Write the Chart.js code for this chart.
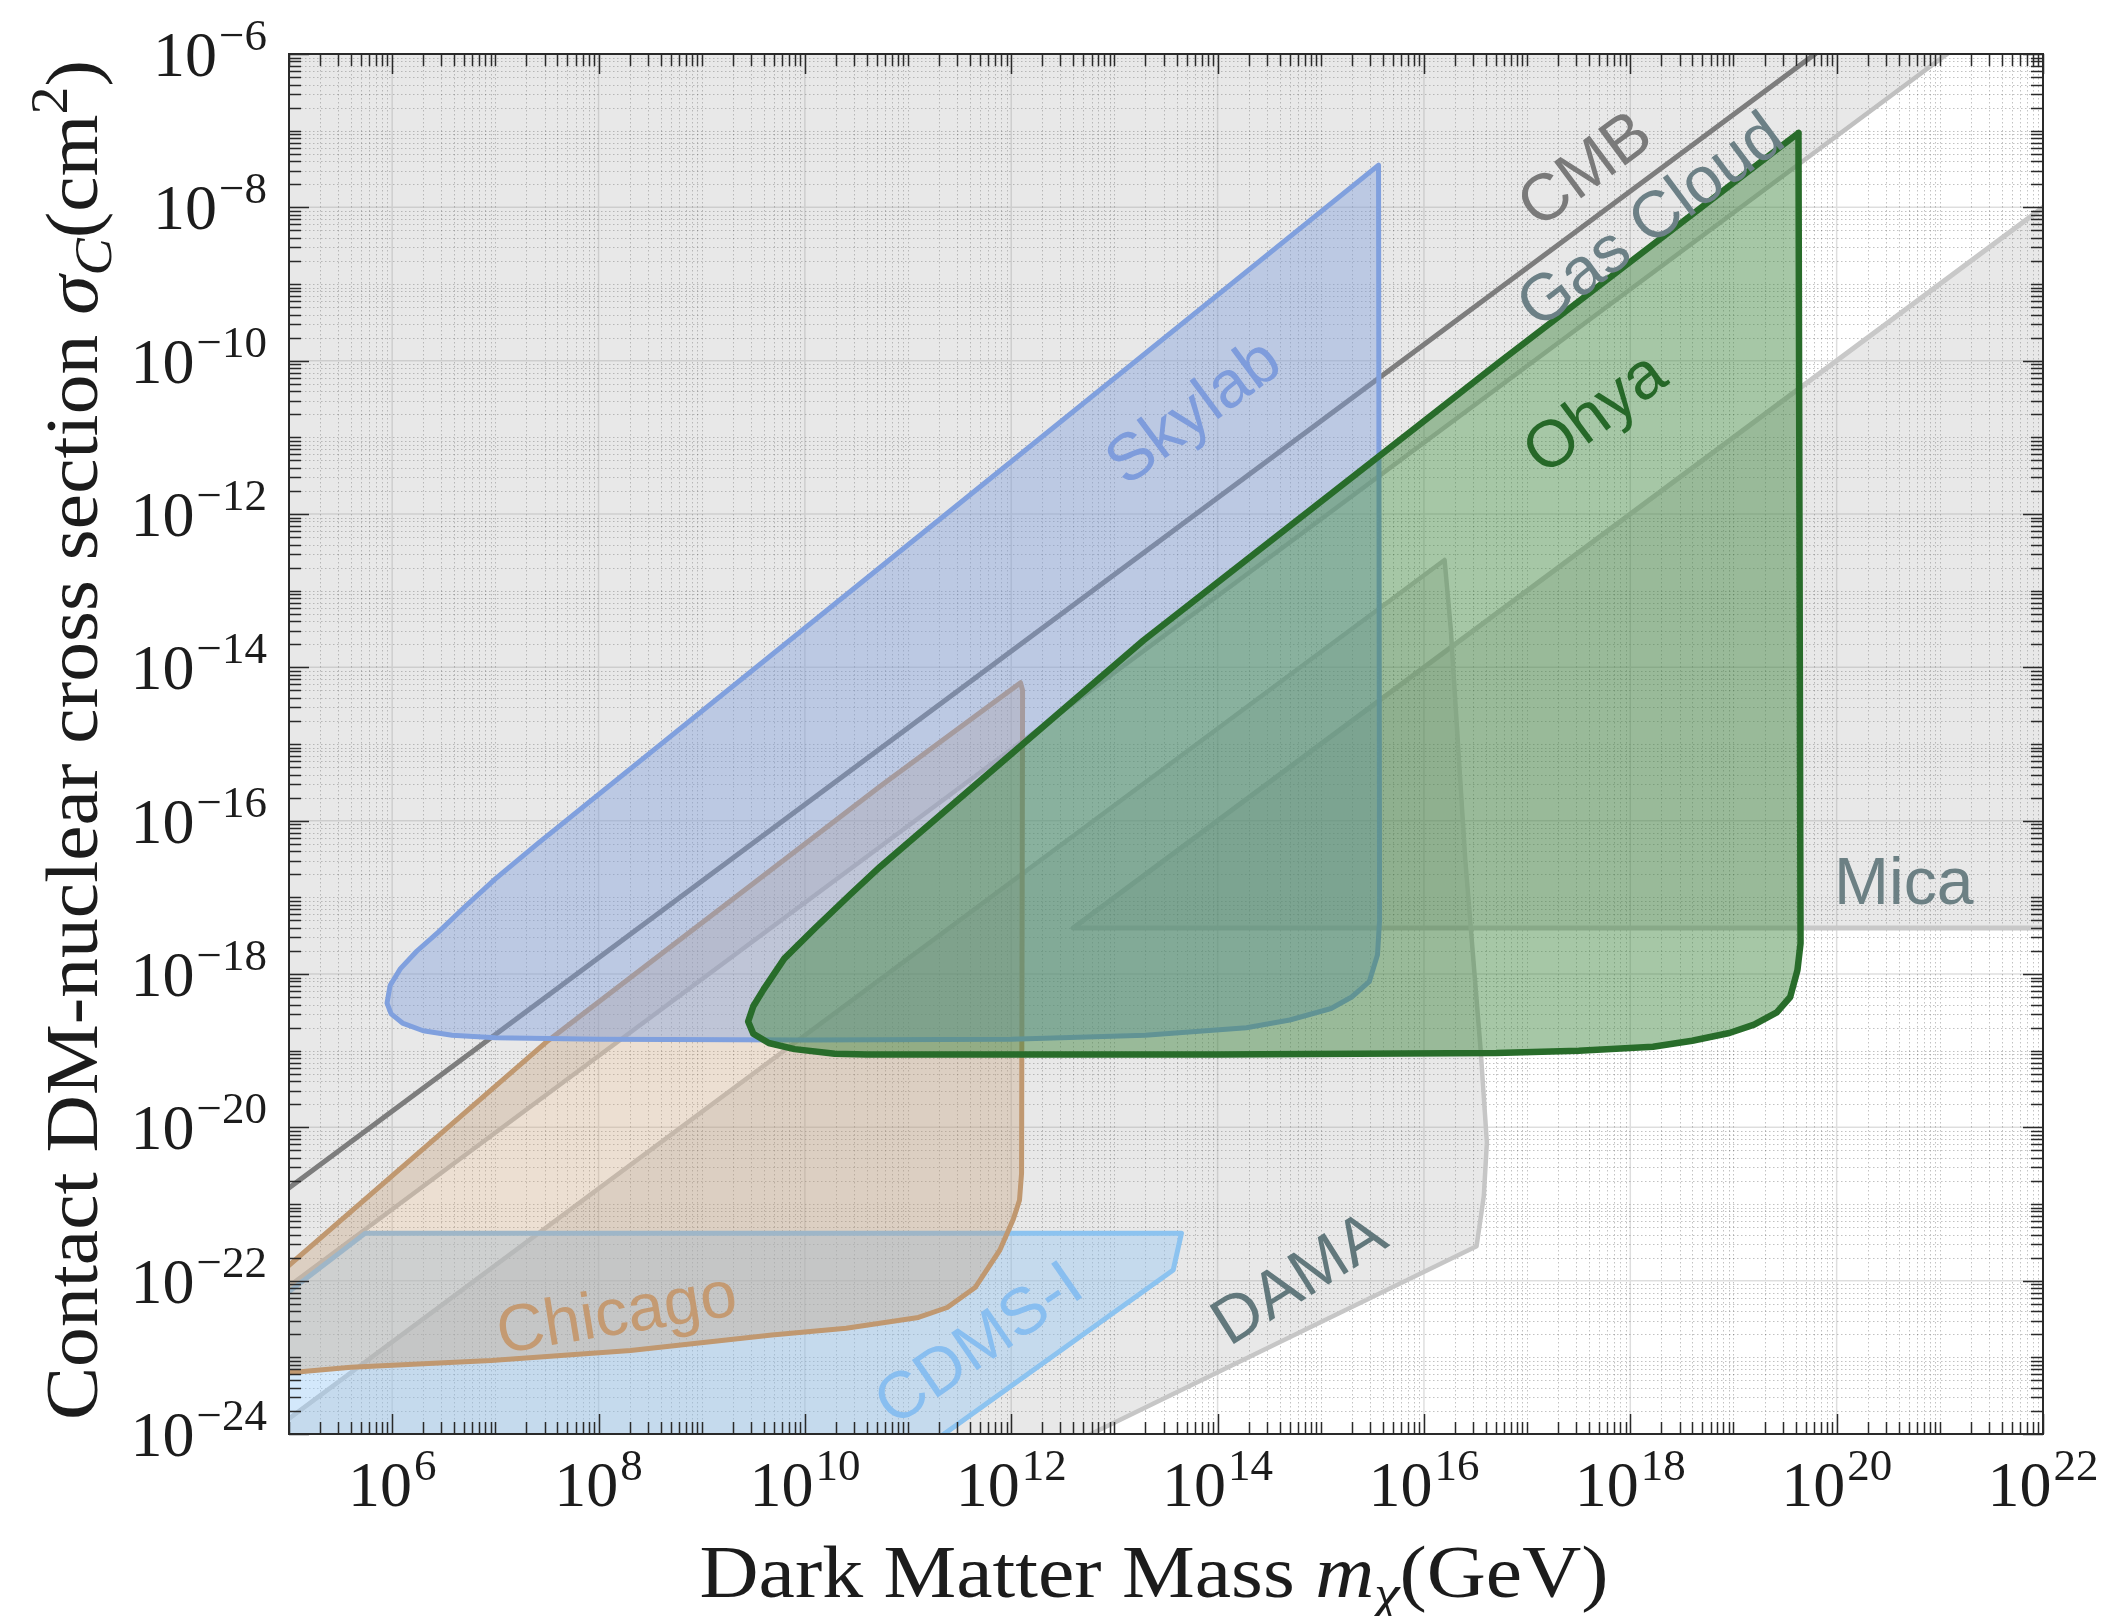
<!DOCTYPE html>
<html>
<head>
<meta charset="utf-8">
<script src="https://cdn.jsdelivr.net/npm/chart.js@4.4.1/dist/chart.umd.min.js"></script>
<style>
  html, body { margin: 0; padding: 0; background: #ffffff; }
  canvas { display: block; }
</style>
</head>
<body>
<canvas id="chart" width="2105" height="1616"></canvas>
<script>
// All values are log10: mass in GeV, cross section in cm^2.
const massRangeExp = [5, 22];
const sigmaRangeExp = [-24, -6];
const massTickExp = [6, 8, 10, 12, 14, 16, 18, 20, 22];
const sigmaTickExp = [-6, -8, -10, -12, -14, -16, -18, -20, -22, -24];

// CMB bound (line)
const cmbLogM = [4.5, 20.5];
const cmbLogSigma = [-21.29, -5.29];

// Gas cloud bound (excluded above the line)
const gasLogM = [4.5, 21.6, 4.5];
const gasLogSigma = [-22.57, -5.47, -5.47];

// Mica excluded wedge
const micaLogM = [22.5, 12.6, 22.5];
const micaLogSigma = [-7.5, -17.4, -17.4];

// DAMA region
const damaLogM = [4.3, 16.2, 16.26, 16.4, 16.55, 16.61, 16.58, 16.51, 12.01];
const damaLogSigma = [-24.5, -12.6, -13.5, -16.5, -19.0, -20.2, -20.9, -21.55, -24.5];

// CDMS-I region
const cdmsLogM = [4.5, 5.74, 13.65, 13.57, 10.83, 4.5];
const cdmsLogSigma = [-22.66, -21.38, -21.38, -21.86, -24.5, -24.5];

// Chicago region
const chicagoLogM = [4.5, 5.0, 7.51, 10.73, 12.09, 12.11, 12.1, 12.08, 12.02, 11.89, 11.65, 11.38, 11.1, 10.4, 9.68, 8.31, 6.96, 5.6, 5.0, 4.5];
const chicagoLogSigma = [-22.4, -21.8, -18.87, -15.55, -14.2, -14.3, -20.6, -20.95, -21.2, -21.6, -22.09, -22.35, -22.48, -22.62, -22.71, -22.91, -23.04, -23.13, -23.2, -23.25];

// Skylab region (closed outline)
const skylabLogM = [15.56, 15.57, 15.55, 15.47, 15.3, 15.1, 14.7, 14.28, 13.3, 12.0, 10.0, 8.0, 7.0, 6.58, 6.3, 6.1, 5.99, 5.95, 5.98, 6.08, 6.24, 6.45, 6.7, 7.0, 7.41, 11.5, 15.56];
const skylabLogSigma = [-7.45, -17.3, -17.75, -18.1, -18.3, -18.45, -18.6, -18.7, -18.8, -18.85, -18.86, -18.85, -18.83, -18.8, -18.74, -18.64, -18.52, -18.38, -18.15, -17.93, -17.7, -17.45, -17.13, -16.76, -16.3, -11.86, -7.45];

// Ohya region (closed outline)
const ohyaLogM = [19.63, 19.65, 19.62, 19.55, 19.42, 19.2, 18.96, 18.6, 18.22, 17.5, 16.7, 14.0, 12.0, 10.6, 10.29, 9.9, 9.65, 9.5, 9.45, 9.5, 9.6, 9.8, 10.1, 10.45, 10.73, 13.28, 16.73, 19.63];
const ohyaLogSigma = [-7.03, -17.6, -17.95, -18.3, -18.5, -18.66, -18.77, -18.87, -18.95, -19.0, -19.03, -19.05, -19.05, -19.05, -19.04, -18.98, -18.9, -18.78, -18.62, -18.42, -18.2, -17.8, -17.4, -16.95, -16.6, -13.65, -10.02, -7.03];

// Region names and where they are written (log10 coordinates, direction as log-log slope)
const regionNames = ['CMB', 'Gas Cloud', 'Skylab', 'Ohya', 'Chicago', 'CDMS-I', 'DAMA', 'Mica'];
const regionLabelLogM = [17.575, 18.21, 13.78, 17.67, 8.18, 11.7, 14.8, 20.65];
const regionLabelLogSigma = [-7.535, -8.2, -10.69, -10.71, -22.46, -22.85, -22.0, -16.85];
const regionLabelSlope = [1, 1, 1, 1, 0.22, 0.93, 0.85, 0];
const regionLabelColors = ['rgb(122,122,122)', 'rgb(108,128,134)', 'rgb(126,156,220)', 'rgb(38,104,40)',
                           'rgb(196,154,114)', 'rgb(136,190,240)', 'rgb(98,120,124)', 'rgb(108,128,132)'];

const pow10 = v => Math.pow(10, v);
const toPoints = (logM, logS) => logM.map((m, i) => ({ x: pow10(m), y: pow10(logS[i]) }));

function region(label, logM, logS, stroke, fillColor, width, order) {
  return {
    label,
    data: toPoints(logM, logS),
    showLine: true,
    borderColor: stroke,
    backgroundColor: fillColor || 'rgba(0,0,0,0)',
    borderWidth: width,
    fill: fillColor ? 'shape' : false,
    pointRadius: 0,
    pointHoverRadius: 0,
    borderJoinStyle: 'round',
    borderCapStyle: 'round',
    tension: 0,
    clip: 0,
    order
  };
}

const datasets = [
  region('Ohya', ohyaLogM, ohyaLogSigma, 'rgb(40,108,42)', 'rgba(62,132,62,0.46)', 6.5, 1),
  region('Skylab', skylabLogM, skylabLogSigma, 'rgb(128,160,222)', 'rgba(128,160,222,0.42)', 5, 2),
  region('Chicago', chicagoLogM, chicagoLogSigma, 'rgb(192,152,112)', 'rgba(196,156,116,0.32)', 5, 3),
  region('CDMS-I', cdmsLogM, cdmsLogSigma, 'rgb(140,195,240)', 'rgba(150,200,245,0.42)', 5, 4),
  region('CMB', cmbLogM, cmbLogSigma, 'rgb(125,125,125)', null, 5, 5),
  region('Gas Cloud', gasLogM, gasLogSigma, 'rgb(192,192,192)', 'rgba(120,120,120,0.17)', 4.5, 6),
  region('DAMA', damaLogM, damaLogSigma, 'rgb(198,198,198)', 'rgba(120,120,120,0.17)', 4.5, 7),
  region('Mica', micaLogM, micaLogSigma, 'rgb(200,200,200)', 'rgba(120,120,120,0.17)', 5, 8)
];

const SERIF = '"Liberation Serif", "DejaVu Serif", serif';
const SANS = '"Liberation Sans", Arial, sans-serif';
const INK = '#1c1c1c';

function minorValues(rangeExp) {
  const out = [];
  for (let e = rangeExp[0]; e < rangeExp[1]; e++) {
    for (let k = 1; k < 10; k++) out.push({ v: k * pow10(e), k, e });
  }
  out.push({ v: pow10(rangeExp[1]), k: 1, e: rangeExp[1] });
  return out;
}

function drawPower(ctx, exp, x, y, align) {
  const base = '10';
  const sup = exp < 0 ? '\u2212' + (-exp) : String(exp);
  const baseFont = '64px ' + SERIF;
  const supFont = '45px ' + SERIF;
  ctx.font = baseFont;
  const wb = ctx.measureText(base).width;
  ctx.font = supFont;
  const ws = ctx.measureText(sup).width;
  const gap = 2;
  const total = wb + gap + ws;
  const x0 = align === 'center' ? x - total / 2 : x - total;
  ctx.textAlign = 'left';
  ctx.textBaseline = 'alphabetic';
  ctx.font = baseFont;
  ctx.fillText(base, x0, y);
  ctx.font = supFont;
  ctx.fillText(sup, x0 + wb + gap, y - 26);
}

function drawRich(ctx, parts, cx, cy, targetWidth, vertical) {
  let total = 0;
  parts.forEach(p => { ctx.font = p.font; p.w = ctx.measureText(p.text).width; total += p.w; });
  const sx = targetWidth / total;
  ctx.save();
  ctx.translate(cx, cy);
  if (vertical) ctx.rotate(-Math.PI / 2);
  ctx.scale(sx, 1);
  ctx.textAlign = 'left';
  ctx.textBaseline = 'alphabetic';
  let xx = -total / 2;
  parts.forEach(p => { ctx.font = p.font; ctx.fillText(p.text, xx, p.dy || 0); xx += p.w; });
  ctx.restore();
}

const decorations = {
  id: 'decorations',
  beforeDatasetsDraw(chart) {
    const { ctx, chartArea: a, scales: { x, y } } = chart;
    ctx.save();
    ctx.beginPath();
    ctx.rect(a.left, a.top, a.right - a.left, a.bottom - a.top);
    ctx.clip();
    // dotted minor grid
    ctx.strokeStyle = 'rgba(0,0,0,0.24)';
    ctx.lineWidth = 1;
    ctx.setLineDash([1.5, 2.5]);
    ctx.beginPath();
    minorValues(massRangeExp).forEach(t => {
      if (t.k === 1 && massTickExp.includes(t.e)) return;
      const px = Math.round(x.getPixelForValue(t.v)) + 0.5;
      ctx.moveTo(px, a.top); ctx.lineTo(px, a.bottom);
    });
    minorValues(sigmaRangeExp).forEach(t => {
      if (t.k === 1 && sigmaTickExp.includes(t.e)) return;
      const py = Math.round(y.getPixelForValue(t.v)) + 0.5;
      ctx.moveTo(a.left, py); ctx.lineTo(a.right, py);
    });
    ctx.stroke();
    // solid grid at labelled decades
    ctx.setLineDash([]);
    ctx.strokeStyle = 'rgba(0,0,0,0.13)';
    ctx.lineWidth = 1.5;
    ctx.beginPath();
    massTickExp.forEach(e => {
      const px = x.getPixelForValue(pow10(e));
      ctx.moveTo(px, a.top); ctx.lineTo(px, a.bottom);
    });
    sigmaTickExp.forEach(e => {
      const py = y.getPixelForValue(pow10(e));
      ctx.moveTo(a.left, py); ctx.lineTo(a.right, py);
    });
    ctx.stroke();
    ctx.restore();
  },
  afterDatasetsDraw(chart) {
    const { ctx, chartArea: a, scales: { x, y } } = chart;
    ctx.save();
    // region names
    regionNames.forEach((name, i) => {
      const lm = regionLabelLogM[i], ls = regionLabelLogSigma[i];
      const px = x.getPixelForValue(pow10(lm));
      const py = y.getPixelForValue(pow10(ls));
      const dx = x.getPixelForValue(pow10(lm + 1)) - px;
      const dy = y.getPixelForValue(pow10(ls + regionLabelSlope[i])) - py;
      ctx.save();
      ctx.translate(px, py);
      ctx.rotate(Math.atan2(dy, dx));
      ctx.font = '66px ' + SANS;
      ctx.fillStyle = regionLabelColors[i];
      ctx.textAlign = 'center';
      ctx.textBaseline = 'middle';
      ctx.fillText(name, 0, 0);
      ctx.restore();
    });

    // frame
    ctx.strokeStyle = '#2a2a2a';
    ctx.lineWidth = 2;
    ctx.strokeRect(a.left, a.top, a.right - a.left, a.bottom - a.top);

    // inward ticks on all four sides
    ctx.lineWidth = 1.5;
    ctx.beginPath();
    minorValues(massRangeExp).forEach(t => {
      const len = (t.k === 1 && massTickExp.includes(t.e)) ? 20 : 12;
      const px = Math.round(x.getPixelForValue(t.v)) + 0.5;
      ctx.moveTo(px, a.bottom); ctx.lineTo(px, a.bottom - len);
      ctx.moveTo(px, a.top); ctx.lineTo(px, a.top + len);
    });
    minorValues(sigmaRangeExp).forEach(t => {
      const len = (t.k === 1 && sigmaTickExp.includes(t.e)) ? 20 : 12;
      const py = Math.round(y.getPixelForValue(t.v)) + 0.5;
      ctx.moveTo(a.left, py); ctx.lineTo(a.left + len, py);
      ctx.moveTo(a.right, py); ctx.lineTo(a.right - len, py);
    });
    ctx.stroke();

    // tick labels
    ctx.fillStyle = INK;
    massTickExp.forEach(e => drawPower(ctx, e, x.getPixelForValue(pow10(e)), a.bottom + 72, 'center'));
    sigmaTickExp.forEach(e => drawPower(ctx, e, a.left - 22, y.getPixelForValue(pow10(e)) + 22, 'right'));

    // axis titles
    const tf = '74px ' + SERIF, ti = 'italic 74px ' + SERIF, ts = 'italic 52px ' + SERIF, tn = '52px ' + SERIF;
    drawRich(ctx, [
      { text: 'Dark Matter Mass ', font: tf },
      { text: 'm', font: ti },
      { text: '\u03c7', font: ts, dy: 14 },
      { text: '(GeV)', font: tf }
    ], (a.left + a.right) / 2 - 12, 1597, 909, false);
    drawRich(ctx, [
      { text: 'Contact DM-nuclear cross section ', font: tf },
      { text: '\u03c3', font: ti },
      { text: 'C', font: ts, dy: 14 },
      { text: '(cm', font: tf },
      { text: '2', font: tn, dy: -30 },
      { text: ')', font: tf }
    ], 97, 740, 1360, true);
    ctx.restore();
  }
};

new Chart(document.getElementById('chart'), {
  type: 'scatter',
  data: { datasets },
  options: {
    responsive: false,
    animation: false,
    devicePixelRatio: 1,
    events: [],
    layout: { padding: { left: 289, right: 62, top: 54, bottom: 182 } },
    plugins: { legend: { display: false }, tooltip: { enabled: false } },
    scales: {
      x: { type: 'logarithmic', min: pow10(massRangeExp[0]), max: pow10(massRangeExp[1]), display: false },
      y: { type: 'logarithmic', min: pow10(sigmaRangeExp[0]), max: pow10(sigmaRangeExp[1]), display: false }
    }
  },
  plugins: [decorations]
});
</script>
</body>
</html>
